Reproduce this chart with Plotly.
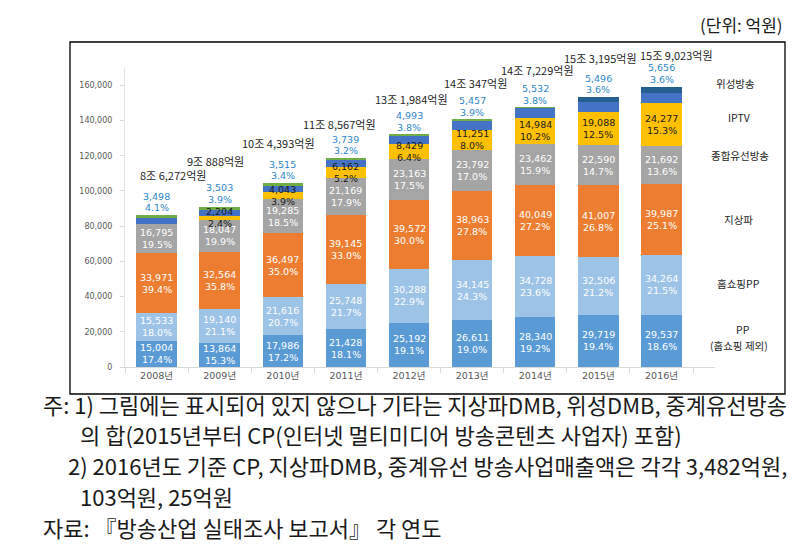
import plotly.graph_objects as go

years = ["2008년", "2009년", "2010년", "2011년", "2012년", "2013년", "2014년", "2015년", "2016년"]
totals = [86272, 90888, 104393, 118567, 131984, 140347, 147229, 153195, 159023]
totals_text = ["8조 6,272억원", "9조 888억원", "10조 4,393억원", "11조 8,567억원", "13조 1,984억원",
               "14조 347억원", "14조 7,229억원", "15조 3,195억원", "15조 9,023억원"]

pp = [15004, 13864, 17986, 21428, 25192, 26611, 28340, 29719, 29537]
pp_pct = [17.4, 15.3, 17.2, 18.1, 19.1, 19.0, 19.2, 19.4, 18.6]
hs = [15533, 19140, 21616, 25748, 30288, 34145, 34728, 32506, 34264]
hs_pct = [18.0, 21.1, 20.7, 21.7, 22.9, 24.3, 23.6, 21.2, 21.5]
terr = [33971, 32564, 36497, 39145, 39572, 38963, 40049, 41007, 39987]
terr_pct = [39.4, 35.8, 35.0, 33.0, 30.0, 27.8, 27.2, 26.8, 25.1]
so = [16795, 18047, 19285, 21169, 23163, 23792, 23462, 22590, 21692]
so_pct = [19.5, 19.9, 18.5, 17.9, 17.5, 17.0, 15.9, 14.7, 13.6]
iptv = [0, 2204, 4043, 6162, 8429, 11251, 14984, 19088, 24277]
iptv_pct = [None, 2.4, 3.9, 5.2, 6.4, 8.0, 10.2, 12.5, 15.3]
sat = [3498, 3503, 3515, 3739, 4993, 5457, 5532, 5496, 5656]
sat_pct = [4.1, 3.9, 3.4, 3.2, 3.8, 3.9, 3.8, 3.6, 3.6]
etc = [1471, 1566, 1451, 1176, 347, 128, 134, 2789, 3610]

y_ticks = [0, 20000, 40000, 60000, 80000, 100000, 120000, 140000, 160000]

# ---- layout geometry (pixels) ----
W, H = 799, 546
L, R, T, B = 117, 707, 60, 359


def px(x):
    return (x - L) / (R - L)


def py(y):
    return (B - y) / (B - T)


NUM_FONT = "DejaVu Sans, Noto Sans CJK KR"
KR_FONT = "Noto Sans CJK KR, DejaVu Sans"

fig = go.Figure()

series = [
    ("PP(홈쇼핑 제외)", pp, "#5B9BD5"),
    ("홈쇼핑PP", hs, "#9DC3E6"),
    ("지상파", terr, "#ED7D31"),
    ("종합유선방송", so, "#A5A5A5"),
    ("IPTV", iptv, "#FFC000"),
    ("위성방송", sat, "#4472C4"),
]
for name, vals, col in series:
    fig.add_trace(go.Bar(x=years, y=vals, name=name, marker_color=col,
                         marker_line_width=0, hoverinfo="skip"))
etc_colors = ["#70AD47"] * 7 + ["#255E91"] * 2
fig.add_trace(go.Bar(x=years, y=etc, name="기타", marker_color=etc_colors,
                     marker_line_width=0, hoverinfo="skip"))

annotations = []

# segment labels
label_sets = [
    (pp, pp_pct, [0] * 9, "white"),
    (hs, hs_pct, pp, "white"),
    (terr, terr_pct, [a + b for a, b in zip(pp, hs)], "white"),
    (so, so_pct, [a + b + c for a, b, c in zip(pp, hs, terr)], "white"),
    (iptv, iptv_pct, [a + b + c + d for a, b, c, d in zip(pp, hs, terr, so)], "#1a1a1a"),
]
for vals, pcts, bases, col in label_sets:
    for i, yr in enumerate(years):
        if pcts[i] is None:
            continue
        mid = bases[i] + vals[i] / 2
        annotations.append(dict(x=yr, y=mid, xref="x", yref="y", text=f"{vals[i]:,}",
                                showarrow=False, yshift=6, yanchor="middle",
                                font=dict(family=NUM_FONT, size=9.5, color=col)))
        annotations.append(dict(x=yr, y=mid, xref="x", yref="y", text=f"{pcts[i]:.1f}%",
                                showarrow=False, yshift=-6, yanchor="middle",
                                font=dict(family=NUM_FONT, size=9.5, color=col)))

# satellite labels above bars
for i, yr in enumerate(years):
    annotations.append(dict(x=yr, y=totals[i], xref="x", yref="y", text=f"{sat[i]:,}",
                            showarrow=False, yshift=19, yanchor="middle",
                            font=dict(family=NUM_FONT, size=9.5, color="#2E86C8")))
    annotations.append(dict(x=yr, y=totals[i], xref="x", yref="y", text=f"{sat_pct[i]:.1f}%",
                            showarrow=False, yshift=7.5, yanchor="middle",
                            font=dict(family=NUM_FONT, size=9.5, color="#2E86C8")))

# total labels
tot_yshift = [40, 46, 40, 34, 36, 37, 38, 39, 32]
tot_xshift = [16, -4, -4, -6, 2, 3, 2, 2, 15]
for i, yr in enumerate(years):
    annotations.append(dict(x=yr, y=totals[i], xref="x", yref="y", text=totals_text[i],
                            showarrow=False, yshift=tot_yshift[i], xshift=tot_xshift[i],
                            yanchor="middle",
                            font=dict(family=KR_FONT, size=11, color="#1f1f1f")))

# right-side series labels
side_labels = [
    ("위성방송", 727, 76),
    ("IPTV", 731, 109),
    ("종합유선방송", 732, 147),
    ("지상파", 730, 211),
    ("홈쇼핑PP", 730, 275),
    ("PP", 735, 321),
    ("(홈쇼핑 제외)", 731, 337),
]
for txt, x, y in side_labels:
    annotations.append(dict(x=px(x), y=py(y), xref="paper", yref="paper", text=txt,
                            showarrow=False, xanchor="center", yanchor="middle",
                            font=dict(family=KR_FONT, size=10.5, color="#1f1f1f")))

# unit label
annotations.append(dict(x=px(777), y=py(16), xref="paper", yref="paper", text="(단위: 억원)",
                        showarrow=False, xanchor="right", yanchor="middle",
                        font=dict(family=KR_FONT, size=17, color="#1a1a1a")))

# footnotes
notes = [
    ("주: 1) 그림에는 표시되어 있지 않으나 기타는 지상파DMB, 위성DMB, 중계유선방송", 33, 396),
    ("의 합(2015년부터 CP(인터넷 멀티미디어 방송콘텐츠 사업자) 포함)", 70, 426),
    ("2) 2016년도 기준 CP, 지상파DMB, 중계유선 방송사업매출액은 각각 3,482억원,", 58, 457),
    ("103억원, 25억원", 70, 488),
    ("자료: 『방송산업 실태조사 보고서』 각 연도", 33, 519),
]
for txt, x, y in notes:
    annotations.append(dict(x=px(x), y=py(y), xref="paper", yref="paper", text=txt,
                            showarrow=False, xanchor="left", yanchor="middle",
                            font=dict(family=KR_FONT, size=22, color="#1a1a1a")))

fig.update_layout(
    width=W, height=H,
    margin=dict(l=L, r=W - R, t=T, b=H - B),
    paper_bgcolor="white", plot_bgcolor="white",
    barmode="stack", bargap=0.36, showlegend=False,
    annotations=annotations,
    shapes=[dict(type="rect", xref="paper", yref="paper",
                 x0=px(62), x1=px(777), y0=py(386), y1=py(34),
                 line=dict(color="black", width=1.3), fillcolor="rgba(0,0,0,0)")],
    xaxis=dict(type="category", showline=True, linecolor="#D9D9D9", linewidth=1,
               ticks="outside", tickson="boundaries", ticklen=5, tickcolor="#D9D9D9",
               tickfont=dict(family=NUM_FONT, size=9.5, color="#595959"),
               showgrid=False, fixedrange=True),
    yaxis=dict(range=[0, 169800], tickvals=y_ticks, tickformat=",",
               showline=True, linecolor="#E3E3E3", linewidth=1,
               ticks="outside", ticklen=4, tickcolor="#D9D9D9", ticklabelstandoff=6,
               tickfont=dict(family=NUM_FONT, size=8, color="#595959"),
               showgrid=False, zeroline=False, fixedrange=True),
)

fig.write_html("out.html")
